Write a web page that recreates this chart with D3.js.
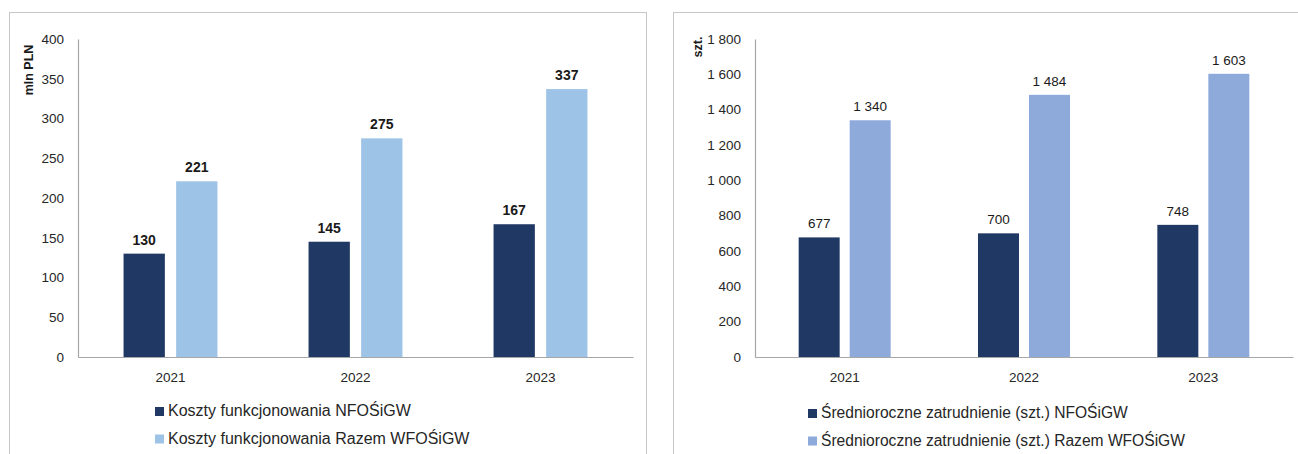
<!DOCTYPE html>
<html>
<head>
<meta charset="utf-8">
<script src="https://cdn.jsdelivr.net/npm/d3@7"></script>
<style>
  html, body { margin: 0; padding: 0; background: #fff; }
  svg { display: block; }
  text { font-family: "Liberation Sans", Arial, sans-serif; }
</style>
</head>
<body>
<svg id="chart" width="1298" height="454"></svg>
<script>
// ---- Data ----
const years = ["2021", "2022", "2023"];

const costSeries = ["Koszty funkcjonowania NFOŚiGW", "Koszty funkcjonowania Razem WFOŚiGW"];
const costNFOS = [130, 145, 167];
const costWFOS = [221, 275, 337];
const costTicks = [0, 50, 100, 150, 200, 250, 300, 350, 400];
const costUnit = "mln PLN";

const empSeries = ["Średnioroczne zatrudnienie (szt.) NFOŚiGW", "Średnioroczne zatrudnienie (szt.) Razem WFOŚiGW"];
const empNFOS = [677, 700, 748];
const empWFOS = [1340, 1484, 1603];
const empTicks = [0, 200, 400, 600, 800, 1000, 1200, 1400, 1600, 1800];
const empUnit = "szt.";

// ---- Rendering ----
const locale = d3.formatLocale({ decimal: ",", thousands: "\u00a0", grouping: [3], currency: ["", ""] });
const fmtSpace = locale.format(",d");
const svg = d3.select("#chart");

const DARK = "#203864";

function drawPanel(cfg) {
  const g = svg.append("g");

  // panel border
  g.append("rect")
    .attr("x", cfg.panel[0] + 0.5).attr("y", cfg.panel[1] + 0.5)
    .attr("width", cfg.panel[2]).attr("height", cfg.panel[3])
    .attr("fill", "none").attr("stroke", "#c6c6c6").attr("stroke-width", 1);

  const x = d3.scaleBand().domain(years).range(cfg.xRange).paddingInner(0).paddingOuter(0);
  const y = d3.scaleLinear().domain([cfg.ticks[0], cfg.ticks[cfg.ticks.length - 1]]).range([357, 39]);

  const barW = cfg.barW, gap = cfg.gap;
  const groupW = 2 * barW + gap;
  const xs = d3.scaleBand().domain([0, 1])
    .range([x.bandwidth() / 2 - groupW / 2, x.bandwidth() / 2 + groupW / 2])
    .paddingInner(gap / (barW + gap)).paddingOuter(0);

  // y axis
  const yAxis = d3.axisLeft(y).tickValues(cfg.ticks).tickSize(0).tickPadding(14)
    .tickFormat(cfg.tickFormat);
  const ya = g.append("g").attr("transform", `translate(${cfg.xRange[0]},0)`).call(yAxis);
  ya.select(".domain").attr("stroke", "#a6a6a6").attr("stroke-width", 1.2);
  ya.selectAll("text").attr("font-size", 13.5).attr("fill", "#262626")
    .attr("font-family", "Liberation Sans, Arial, sans-serif");

  // x axis
  const xAxis = d3.axisBottom(x).tickSize(0).tickPadding(15);
  const xa = g.append("g").attr("transform", `translate(0,${y(0)})`).call(xAxis);
  xa.select(".domain").attr("stroke", "#a6a6a6").attr("stroke-width", 1.2);
  xa.selectAll("text").attr("font-size", 13.5).attr("fill", "#262626")
    .attr("font-family", "Liberation Sans, Arial, sans-serif");

  // bars
  const seriesVals = [cfg.s1, cfg.s2];
  const colors = [DARK, cfg.light];
  seriesVals.forEach((vals, si) => {
    g.append("g").selectAll("rect").data(years).join("rect")
      .attr("x", d => x(d) + xs(si))
      .attr("y", (d, i) => y(vals[i]))
      .attr("width", xs.bandwidth())
      .attr("height", (d, i) => y(0) - y(vals[i]))
      .attr("fill", colors[si]);

    g.append("g").selectAll("text").data(years).join("text")
      .attr("x", d => x(d) + xs(si) + xs.bandwidth() / 2)
      .attr("y", (d, i) => y(vals[i]) - 9)
      .attr("text-anchor", "middle")
      .attr("font-size", cfg.labelSize)
      .attr("font-weight", cfg.labelWeight)
      .attr("fill", "#1a1a1a")
      .text((d, i) => cfg.labelFormat(vals[i]));
  });

  // unit label
  g.append("text")
    .attr("transform", `translate(${cfg.unitPos[0]},${cfg.unitPos[1]}) rotate(-90)`)
    .attr("text-anchor", "middle")
    .attr("font-size", 12.5).attr("font-weight", "bold").attr("fill", "#1a1a1a")
    .text(cfg.unit);

  // legend
  cfg.series.forEach((name, i) => {
    const ly = cfg.legend[1] + i * 27.5;
    g.append("rect")
      .attr("x", cfg.legend[0]).attr("y", ly - 9)
      .attr("width", 9).attr("height", 9)
      .attr("fill", colors[i]);
    g.append("text")
      .attr("x", cfg.legend[0] + 13).attr("y", ly)
      .attr("font-size", cfg.legendSize).attr("fill", "#262626")
      .text(name);
  });
}

drawPanel({
  panel: [9, 12, 637, 460],
  xRange: [78, 633],
  ticks: costTicks,
  tickFormat: d3.format("d"),
  s1: costNFOS, s2: costWFOS,
  light: "#9dc3e6",
  barW: 41.3, gap: 11.3,
  labelSize: 14, labelWeight: "bold",
  labelFormat: d3.format("d"),
  unit: costUnit, unitPos: [33, 70],
  series: costSeries,
  legend: [155, 416],
  legendSize: 16
});

drawPanel({
  panel: [673, 12, 640, 460],
  xRange: [755, 1293],
  ticks: empTicks,
  tickFormat: fmtSpace,
  s1: empNFOS, s2: empWFOS,
  light: "#8eaadb",
  barW: 41, gap: 10,
  labelSize: 13.5, labelWeight: "normal",
  labelFormat: fmtSpace,
  unit: empUnit, unitPos: [702, 47],
  series: empSeries,
  legend: [808, 418],
  legendSize: 15.6
});
</script>
</body>
</html>
